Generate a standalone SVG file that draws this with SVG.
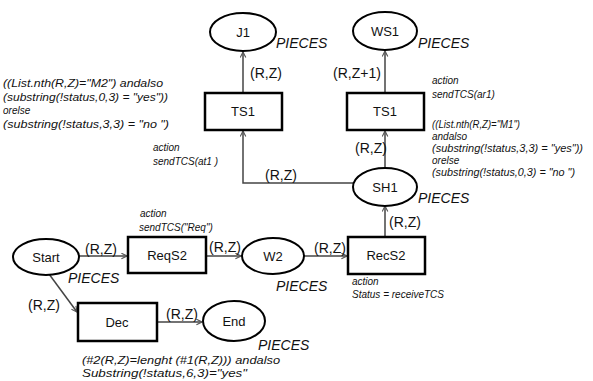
<svg xmlns="http://www.w3.org/2000/svg" width="593" height="381" viewBox="0 0 593 381">
<defs>
<style>
.place{fill:#fff;stroke:#000;stroke-width:2}
.trans{fill:#fff;stroke:#000;stroke-width:2.5}
.lbl{font-family:"Liberation Sans",Arial,sans-serif;font-size:13px;fill:#111;text-anchor:middle}
.arc{fill:none;stroke:#444;stroke-width:1.5}
.ins{font-family:"Liberation Sans",Arial,sans-serif;font-size:14px;font-style:italic;fill:#111}
.al{font-family:"Liberation Sans",Arial,sans-serif;font-size:14px;fill:#111}
.it{font-family:"Liberation Sans",Arial,sans-serif;font-size:10px;font-style:italic;fill:#111}
</style>
<marker id="ah" viewBox="0 0 10 10" refX="9" refY="5" markerWidth="7" markerHeight="7" orient="auto" markerUnits="userSpaceOnUse">
<path d="M1,1 L9,5 L1,9" fill="none" stroke="#555" stroke-width="1.6"/>
</marker>
</defs>
<g id="connectors">
<line class="arc" x1="243" y1="93" x2="243" y2="52" marker-end="url(#ah)"/>
<line class="arc" x1="385" y1="93" x2="385" y2="51" marker-end="url(#ah)"/>
<polyline class="arc" points="354,183 243,183 243,131" marker-end="url(#ah)"/>
<line class="arc" x1="385" y1="168" x2="385" y2="131" marker-end="url(#ah)"/>
<line class="arc" x1="385" y1="236" x2="385" y2="206" marker-end="url(#ah)"/>
<line class="arc" x1="79" y1="256" x2="127" y2="256" marker-end="url(#ah)"/>
<line class="arc" x1="207" y1="256" x2="241" y2="256" marker-end="url(#ah)"/>
<line class="arc" x1="304" y1="256" x2="347" y2="256" marker-end="url(#ah)"/>
<line class="arc" x1="49" y1="274" x2="77" y2="312" marker-end="url(#ah)"/>
<line class="arc" x1="157" y1="322" x2="202" y2="322" marker-end="url(#ah)"/>
<text class="al" x="250" y="78">(R,Z)</text>
<text class="al" x="333" y="78">(R,Z+1)</text>
<text class="al" x="355" y="153">(R,Z)</text>
<text class="al" x="265" y="180">(R,Z)</text>
<text class="al" x="389" y="227">(R,Z)</text>
<text class="al" x="85" y="254">(R,Z)</text>
<text class="al" x="209" y="252">(R,Z)</text>
<text class="al" x="314" y="253">(R,Z)</text>
<text class="al" x="28" y="310">(R,Z)</text>
<text class="al" x="166" y="319">(R,Z)</text>
</g>
<g id="J1">
<ellipse class="place" cx="243" cy="32" rx="33" ry="19"/>
<text class="lbl" x="243" y="37">J1</text>
<text class="ins" x="276" y="48">PIECES</text>
</g>
<g id="WS1">
<ellipse class="place" cx="385" cy="31" rx="32" ry="19"/>
<text class="lbl" x="385" y="36">WS1</text>
<text class="ins" x="418" y="48">PIECES</text>
</g>
<g id="TS1a">
<rect class="trans" x="205" y="93" width="77" height="37"/>
<text class="lbl" x="243" y="116">TS1</text>
<text class="it" x="3" y="87" textLength="160" lengthAdjust="spacingAndGlyphs">((List.nth(R,Z)="M2") andalso</text>
<text class="it" x="3" y="101" textLength="165" lengthAdjust="spacingAndGlyphs">(substring(!status,0,3) = "yes"))</text>
<text class="it" x="3" y="114">orelse</text>
<text class="it" x="3" y="128" textLength="166" lengthAdjust="spacingAndGlyphs">(substring(!status,3,3) = "no ")</text>
<text class="it" x="153" y="151">action</text>
<text class="it" x="153" y="165">sendTCS(at1 )</text>
</g>
<g id="TS1b">
<rect class="trans" x="347" y="93" width="77" height="37"/>
<text class="lbl" x="385" y="116">TS1</text>
<text class="it" x="432" y="84">action</text>
<text class="it" x="432" y="98">sendTCS(ar1)</text>
<text class="it" x="432" y="128" textLength="88" lengthAdjust="spacingAndGlyphs">((List.nth(R,Z)="M1")</text>
<text class="it" x="432" y="140">andalso</text>
<text class="it" x="432" y="152" textLength="151" lengthAdjust="spacingAndGlyphs">(substring(!status,3,3) = "yes"))</text>
<text class="it" x="432" y="164">orelse</text>
<text class="it" x="432" y="176" textLength="143" lengthAdjust="spacingAndGlyphs">(substring(!status,0,3) = "no ")</text>
</g>
<g id="SH1">
<ellipse class="place" cx="385" cy="187" rx="32" ry="19"/>
<text class="lbl" x="385" y="192">SH1</text>
<text class="ins" x="418" y="203">PIECES</text>
</g>
<g id="Start">
<ellipse class="place" cx="46" cy="257" rx="33" ry="18"/>
<text class="lbl" x="46" y="262">Start</text>
<text class="ins" x="68" y="283">PIECES</text>
</g>
<g id="ReqS2">
<rect class="trans" x="128" y="237" width="78" height="36"/>
<text class="lbl" x="167" y="260">ReqS2</text>
<text class="it" x="140" y="217">action</text>
<text class="it" x="139" y="231">sendTCS("Req")</text>
</g>
<g id="W2">
<ellipse class="place" cx="273" cy="256" rx="31" ry="18"/>
<text class="lbl" x="273" y="261">W2</text>
<text class="ins" x="276" y="291">PIECES</text>
</g>
<g id="RecS2">
<rect class="trans" x="348" y="237" width="77" height="37"/>
<text class="lbl" x="386" y="260">RecS2</text>
<text class="it" x="352" y="285">action</text>
<text class="it" x="352" y="298">Status = receiveTCS</text>
</g>
<g id="Dec">
<rect class="trans" x="78" y="303" width="79" height="38"/>
<text class="lbl" x="117" y="327">Dec</text>
<text class="it" x="82" y="364" textLength="198" lengthAdjust="spacingAndGlyphs">(#2(R,Z)=lenght (#1(R,Z))) andalso</text>
<text class="it" x="82" y="377" textLength="165" lengthAdjust="spacingAndGlyphs">Substring(!status,6,3)="yes"</text>
</g>
<g id="End">
<ellipse class="place" cx="234" cy="321" rx="31" ry="20"/>
<text class="lbl" x="234" y="326">End</text>
<text class="ins" x="258" y="350">PIECES</text>
</g>
</svg>
